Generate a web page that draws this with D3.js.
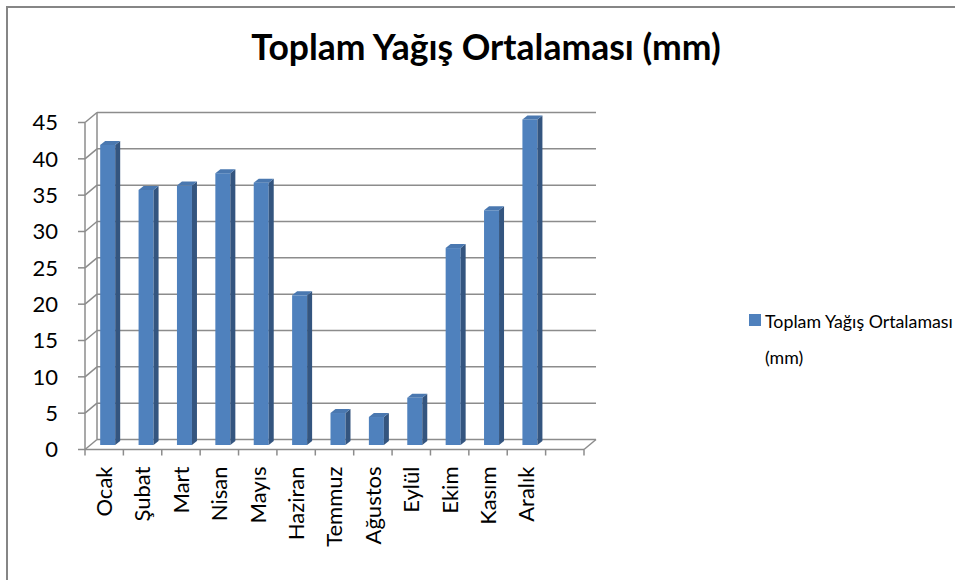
<!DOCTYPE html>
<html>
<head>
<meta charset="utf-8">
<script src="https://cdn.jsdelivr.net/npm/d3@7"></script>
<style>
  body { margin: 0; background: #fff; }
  svg { display: block; }
  text { font-family: Lato, "Open Sans", sans-serif; fill: #000; }
</style>
</head>
<body>
<div class="chart"></div>
<script>
var months = ["Ocak", "Şubat", "Mart", "Nisan", "Mayıs", "Haziran",
  "Temmuz", "Ağustos", "Eylül", "Ekim", "Kasım", "Aralık"];
var rainfall = [41.3, 35.1, 35.7, 37.4, 36.1, 20.6, 4.4, 3.85, 6.5, 27.1, 32.3, 44.8];
var yTicks = [0, 5, 10, 15, 20, 25, 30, 35, 40, 45];
var seriesName = "Toplam Yağış Ortalaması (mm)";

var width = 955, height = 580;
var plot = { left: 85, right: 584, top: 122.5, bottom: 449.5 };
// depth of the 3d box (back wall offset) and of a bar
var depth = { x: 12, y: -10 };
var barDepth = { x: 5, y: -4 };
var gridColor = "#8c8c8c";

var svg = d3.select('.chart').append('svg')
  .attr("width", width)
  .attr("height", height);

svg.append('rect')
  .attr('width', width).attr('height', height)
  .attr('fill', '#fff');

// outer chart border (runs off the right and bottom edge)
svg.append('rect')
  .attr('x', 7).attr('y', 7)
  .attr('width', width + 20).attr('height', height + 20)
  .attr('fill', 'none')
  .attr('stroke', '#868686')
  .attr('stroke-width', 2);

// title
svg.append('text')
  .attr('x', 486).attr('y', 60)
  .attr('text-anchor', 'middle')
  .style('font-size', '35.5px')
  .style('font-weight', 'bold')
  .text(seriesName);

// scales (front plane)
var slots = months.concat([""]);
var x = d3.scaleBand()
  .domain(d3.range(slots.length))
  .range([plot.left, plot.right]);
var y = d3.scaleLinear()
  .domain([0, 45])
  .range([plot.bottom, plot.top]);

var g = svg.append('g');

// left side wall: diagonals from front ticks to back wall
g.selectAll('.side-grid')
  .data(yTicks)
  .enter().append('line')
  .attr('x1', plot.left).attr('y1', function (d) { return y(d); })
  .attr('x2', plot.left + depth.x).attr('y2', function (d) { return y(d) + depth.y; })
  .attr('stroke', gridColor).attr('stroke-width', 1.5);

// back wall gridlines
g.selectAll('.back-grid')
  .data(yTicks)
  .enter().append('line')
  .attr('x1', plot.left + depth.x).attr('y1', function (d) { return y(d) + depth.y; })
  .attr('x2', plot.right + depth.x).attr('y2', function (d) { return y(d) + depth.y; })
  .attr('stroke', gridColor).attr('stroke-width', 1.5);

// back wall left edge
g.append('line')
  .attr('x1', plot.left + depth.x).attr('y1', y(45) + depth.y)
  .attr('x2', plot.left + depth.x).attr('y2', y(0) + depth.y)
  .attr('stroke', gridColor).attr('stroke-width', 1.5);

// floor right edge and front edge
g.append('line')
  .attr('x1', plot.right).attr('y1', y(0))
  .attr('x2', plot.right + depth.x).attr('y2', y(0) + depth.y)
  .attr('stroke', gridColor).attr('stroke-width', 1.5);
g.append('line')
  .attr('x1', plot.left).attr('y1', y(0))
  .attr('x2', plot.right).attr('y2', y(0))
  .attr('stroke', gridColor).attr('stroke-width', 1.5);

// y axis line and ticks
g.append('line')
  .attr('x1', plot.left).attr('y1', y(45))
  .attr('x2', plot.left).attr('y2', y(0))
  .attr('stroke', gridColor).attr('stroke-width', 1.5);
g.selectAll('.ytick')
  .data(yTicks)
  .enter().append('line')
  .attr('x1', plot.left - 7).attr('x2', plot.left)
  .attr('y1', function (d) { return y(d); })
  .attr('y2', function (d) { return y(d); })
  .attr('stroke', gridColor).attr('stroke-width', 1.5);
g.selectAll('.ylabel')
  .data(yTicks)
  .enter().append('text')
  .attr('x', 58)
  .attr('y', function (d) { return y(d); })
  .attr('dy', '0.36em')
  .attr('text-anchor', 'end')
  .style('font-size', '22px')
  .text(function (d) { return d; });

// x ticks
g.selectAll('.xtick')
  .data(d3.range(slots.length + 1))
  .enter().append('line')
  .attr('x1', function (i) { return plot.left + i * x.bandwidth(); })
  .attr('x2', function (i) { return plot.left + i * x.bandwidth(); })
  .attr('y1', y(0)).attr('y2', y(0) + 6)
  .attr('stroke', gridColor).attr('stroke-width', 1.5);

g.selectAll('.xlabel')
  .data(months)
  .enter().append('text')
  .attr('transform', function (d, i) {
    return 'translate(' + (x(i) + x.bandwidth() / 2) + ',' + (y(0) + 17) + ')rotate(-90)';
  })
  .attr('dy', '0.36em')
  .attr('text-anchor', 'end')
  .style('font-size', '22px')
  .text(function (d) { return d; });

// bars (front face, right side, top cap)
var faceW = 15;
function faceX(i) { return x(i) + x.bandwidth() / 2 - 4; }
function faceTop(v) { return y(v) - 4.5; }
var faceBottom = y(0) - 4.5;

var bars = g.selectAll('.bar')
  .data(rainfall)
  .enter().append('g')
  .attr('class', 'bar');

bars.append('rect')
  .attr('x', function (d, i) { return faceX(i); })
  .attr('y', function (d) { return faceTop(d); })
  .attr('width', faceW)
  .attr('height', function (d) { return faceBottom - faceTop(d); })
  .attr('fill', '#4f81bd');

bars.append('polygon')
  .attr('points', function (d, i) {
    var x0 = faceX(i) + faceW, t = faceTop(d);
    return [[x0, t], [x0 + barDepth.x, t + barDepth.y],
      [x0 + barDepth.x, faceBottom + barDepth.y], [x0, faceBottom]].join(' ');
  })
  .attr('fill', '#34557f');

bars.append('polygon')
  .attr('points', function (d, i) {
    var x0 = faceX(i), t = faceTop(d);
    return [[x0, t], [x0 + barDepth.x, t + barDepth.y],
      [x0 + faceW + barDepth.x, t + barDepth.y], [x0 + faceW, t]].join(' ');
  })
  .attr('fill', '#4a78b0');

// legend
var legend = svg.append('g');
legend.append('rect')
  .attr('x', 749).attr('y', 314)
  .attr('width', 12).attr('height', 12)
  .attr('fill', '#4f81bd');
legend.append('text')
  .attr('x', 765).attr('y', 328)
  .style('font-size', '17.8px')
  .text('Toplam Yağış Ortalaması');
legend.append('text')
  .attr('x', 765).attr('y', 364)
  .style('font-size', '17.8px')
  .text('(mm)');
</script>
</body>
</html>
